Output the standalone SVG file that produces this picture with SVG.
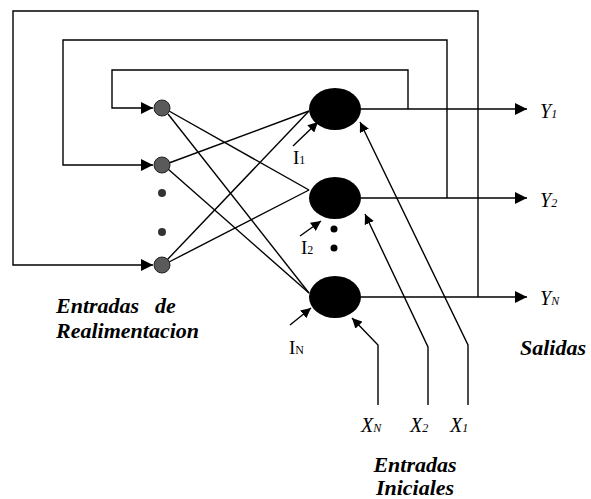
<svg xmlns="http://www.w3.org/2000/svg" width="591" height="499" viewBox="0 0 591 499">
<defs>
<marker id="ah" viewBox="0 0 10 10" refX="10" refY="5" markerWidth="10" markerHeight="10" markerUnits="userSpaceOnUse" orient="auto"><path d="M0,0 L10,5 L0,10 z" fill="#000"/></marker>
<marker id="ahb" viewBox="0 0 10 10" refX="10" refY="5" markerWidth="13" markerHeight="12" markerUnits="userSpaceOnUse" orient="auto"><path d="M0,0 L10,5 L0,10 z" fill="#000"/></marker>
</defs>
<style>
.ln{fill:none;stroke:#000;stroke-width:1.4}
.sn{fill:#5a5a5a;stroke:#222;stroke-width:1}
.bn{fill:#000}
.t{fill:#000}
.it{font-style:italic;font-size:20px}
.bi{font-style:italic;font-weight:bold;font-size:22px}
.rm{font-size:19px}
.sub{font-size:12px}
</style>
<rect width="591" height="499" fill="#fff"/>
<g id="connectors">
<path class="ln" d="M478,297 V11 H13 V265 H153" marker-end="url(#ahb)"/>
<path class="ln" d="M447,198 V40 H63 V165 H153" marker-end="url(#ahb)"/>
<path class="ln" d="M408,109 V70 H112 V108 H153" marker-end="url(#ahb)"/>
<path class="ln" d="M361,109 H527" marker-end="url(#ahb)"/>
<path class="ln" d="M361,198 H527" marker-end="url(#ahb)"/>
<path class="ln" d="M361,297 H527" marker-end="url(#ahb)"/>
<line class="ln" x1="169" y1="111" x2="309" y2="190"/>
<line class="ln" x1="168" y1="114" x2="309" y2="293"/>
<line class="ln" x1="169" y1="163" x2="309" y2="111"/>
<line class="ln" x1="168" y1="169" x2="309" y2="293"/>
<line class="ln" x1="167" y1="260" x2="309" y2="111"/>
<line class="ln" x1="169" y1="262" x2="309" y2="190"/>
<line class="ln" x1="293" y1="146" x2="318" y2="122" marker-end="url(#ah)"/>
<line class="ln" x1="300" y1="236" x2="321" y2="221" marker-end="url(#ah)"/>
<line class="ln" x1="290" y1="325" x2="311" y2="308" marker-end="url(#ah)"/>
<path class="ln" d="M378,405 V345 L352,318" marker-end="url(#ah)"/>
<path class="ln" d="M428,405 V347 L365,214" marker-end="url(#ah)"/>
<path class="ln" d="M468,405 V345 L360,122" marker-end="url(#ah)"/>
</g>
<g id="in1"><circle class="sn" cx="162" cy="108" r="8"/></g>
<g id="in2"><circle class="sn" cx="162" cy="165" r="8"/></g>
<g id="dotsL"><circle cx="162" cy="193" r="4" fill="#333"/><circle cx="162" cy="232" r="4" fill="#333"/></g>
<g id="inN"><circle class="sn" cx="162" cy="265" r="8"/></g>
<g id="n1"><ellipse class="bn" cx="335" cy="109" rx="26" ry="21"/></g>
<g id="n2"><ellipse class="bn" cx="335" cy="198" rx="26" ry="21"/></g>
<g id="dotsR"><circle cx="334" cy="229" r="3.5"/><circle cx="334" cy="248" r="3.5"/></g>
<g id="n3"><ellipse class="bn" cx="335" cy="297" rx="26" ry="21"/></g>
<g id="labels" font-family="'Liberation Serif', 'Times New Roman', serif">
<text class="t rm" x="293" y="164">I<tspan class="sub">1</tspan></text>
<text class="t rm" x="301" y="254">I<tspan class="sub">2</tspan></text>
<text class="t rm" x="289" y="354">I<tspan class="sub">N</tspan></text>
<text class="t it" x="540" y="118">Y<tspan class="sub">1</tspan></text>
<text class="t it" x="540" y="207">Y<tspan class="sub">2</tspan></text>
<text class="t it" x="540" y="305">Y<tspan class="sub">N</tspan></text>
<text class="t it" x="361" y="432">X<tspan class="sub">N</tspan></text>
<text class="t it" x="410" y="432">X<tspan class="sub">2</tspan></text>
<text class="t it" x="450" y="432">X<tspan class="sub">1</tspan></text>
<text class="t bi" x="56" y="313">Entradas</text>
<text class="t bi" x="155" y="313">de</text>
<text class="t bi" x="56" y="338">Realimentacion</text>
<text class="t bi" x="520" y="355">Salidas</text>
<text class="t bi" x="415" y="472" text-anchor="middle">Entradas</text>
<text class="t bi" x="415" y="495" text-anchor="middle">Iniciales</text>
</g>
</svg>
